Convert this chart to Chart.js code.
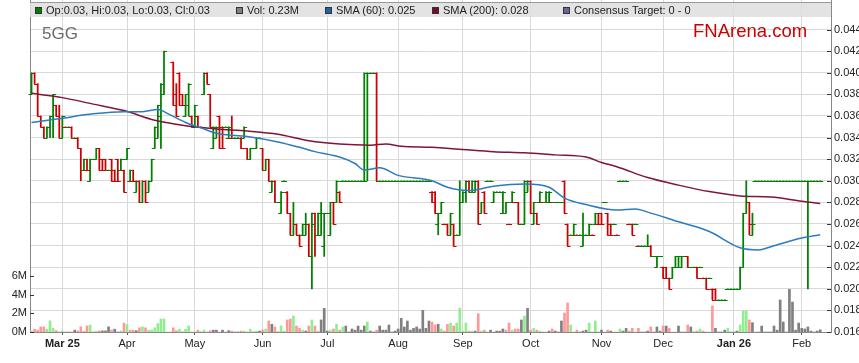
<!DOCTYPE html>
<html>
<head>
<meta charset="utf-8">
<script src="https://cdn.jsdelivr.net/npm/chart.js@4.4.1/dist/chart.umd.min.js"></script>
<style>
  body { margin: 0; background: #fff; font-family: "Liberation Sans", Arial, sans-serif; }
  #wrap { position: relative; width: 859px; height: 363px; overflow: hidden; }
  #hdr { position: absolute; left: 30px; top: 2px; width: 801px; height: 14px;
         background: rgba(222, 222, 222, 0.85); border-top: 1px solid #9a9a9a; }
  #hdr .it { position: absolute; top: 2px; font-size: 11px; line-height: 11px; color: #222; white-space: nowrap; }
  #hdr .sw { display: inline-block; width: 5px; height: 5px; border: 1px solid #333; margin-right: 4px; vertical-align: 0px; }
  #code { position: absolute; left: 42px; top: 25px; font-size: 17px; line-height: 17px; color: #6b6b6b; }
  #brand { position: absolute; left: 693px; top: 22px; font-size: 18.5px; line-height: 18.5px; color: #cc0000; }
</style>
</head>
<body>
<div id="wrap">
  <canvas id="chart" width="859" height="363"></canvas>
  <div id="hdr">
    <span class="it" style="left:5px"><span class="sw" style="background:#008000"></span>Op:0.03, Hi:0.03, Lo:0.03, Cl:0.03</span>
    <span class="it" style="left:206px"><span class="sw" style="background:#808080"></span>Vol: 0.23M</span>
    <span class="it" style="left:295px"><span class="sw" style="background:#1a63a5"></span>SMA (60): 0.025</span>
    <span class="it" style="left:402px"><span class="sw" style="background:#7a0a28"></span>SMA (200): 0.028</span>
    <span class="it" style="left:533px"><span class="sw" style="background:#66669a"></span>Consensus Target: 0 - 0</span>
  </div>
  <div id="code">5GG</div>
  <div id="brand">FNArena.com</div>
</div>
<script>
// 5GG daily OHLC, one slot per weekday starting Mon 17 Feb 2025
const startDate = '2025-02-17';
const dayCount = 260;

const opens = [
  .038,.040,.039,.036,.035,.034,.035,.036,.037,.036,
  .034,.035,.035,.035,.034,.034,.033,.031,.031,.030,
  .032,.032,.033,.032,.032,.031,.032,.031,.032,.031,
  .031,.032,.030,.030,.029,.030,.028,.030,.029,.030,
  .033,.034,.036,.038,null,null,.041,.038,.040,.038,
  .036,.037,.036,.035,.036,.035,.038,.040,.038,.033,
  .034,.036,.035,.035,.034,.034,.034,.034,.034,.034,
  .033,.032,.033,.033,.034,.033,.031,.032,.029,.030,
  .028,.027,.030,.029,.027,.025,.026,.025,.025,.025,
  .026,.023,.027,.025,.025,.024,.027,.025,.028,.028,
  .029,.030,.030,.030,.030,.030,.030,.030,.030,.040,
  .040,.040,.040,.030,.030,.030,.030,.030,.030,.030,
  .030,.030,.030,.030,.030,.030,.030,.030,.030,.030,
  .029,.029,.026,.027,.026,.026,.025,.026,.025,.025,
  .028,.029,.030,.029,.029,.030,.027,.029,.030,.030,
  .028,.029,.029,.027,.027,.026,.028,.028,.028,.026,
  .026,.029,.030,.026,.027,.028,.028,.028,.028,.028,
  .028,.028,.028,.030,.026,.025,.025,.025,.025,.024,
  .025,.025,.025,.026,.026,.027,.028,.027,.026,.026,
  .025,.030,.030,.030,.026,.026,.026,.024,.024,.024,
  .024,.024,.023,.022,.023,.022,.022,.021,.021,.022,
  .022,.022,.023,.023,.022,.022,.022,.022,.021,.021,
  .021,.020,.020,.019,.019,.019,.020,.020,.020,.020,
  .020,.022,.027,.028,.025,.030,.030,.030,.030,.030,
  .030,.030,.030,.030,.030,.030,.030,.030,.030,.030,
  .030,.030,.030,.030,.030,.030,.030
];
const highs = [
  .040,.040,.039,.036,.035,.035,.036,.038,.037,.037,
  .036,.035,.035,.035,.034,.034,.033,.032,.032,.032,
  .032,.033,.033,.032,.032,.031,.032,.031,.032,.032,
  .031,.033,.031,.031,.030,.030,.030,.030,.030,.032,
  .035,.037,.039,.042,null,null,.041,.039,.040,.038,
  .038,.039,.036,.037,.036,.035,.040,.040,.038,.035,
  .035,.036,.035,.035,.035,.036,.034,.034,.034,.035,
  .033,.033,.033,.034,.034,.033,.032,.032,.030,.030,
  .028,.029,.030,.029,.027,.028,.026,.025,.026,.027,
  .026,.027,.027,.027,.028,.027,.027,.028,.028,.030,
  .029,.030,.030,.030,.030,.030,.030,.030,.040,.040,
  .040,.040,.040,.030,.030,.030,.030,.030,.030,.030,
  .030,.030,.030,.030,.030,.030,.030,.030,.030,.030,
  .029,.029,.027,.028,.026,.026,.027,.026,.025,.030,
  .029,.030,.030,.030,.030,.030,.028,.029,.030,.030,
  .029,.029,.029,.029,.028,.026,.029,.028,.028,.026,
  .030,.030,.030,.028,.027,.029,.028,.029,.029,.028,
  .028,.028,.028,.030,.026,.025,.026,.025,.025,.027,
  .025,.026,.025,.027,.027,.027,.028,.027,.026,.026,
  .025,.030,.030,.030,.026,.026,.026,.024,.024,.024,
  .025,.024,.023,.023,.023,.022,.022,.021,.022,.023,
  .023,.023,.023,.023,.022,.022,.022,.022,.021,.021,
  .021,.020,.020,.019,.019,.019,.020,.020,.020,.020,
  .022,.027,.030,.028,.027,.030,.030,.030,.030,.030,
  .030,.030,.030,.030,.030,.030,.030,.030,.030,.030,
  .030,.030,.030,.030,.030,.030,.030
];
const lows = [
  .038,.039,.036,.035,.034,.034,.034,.034,.036,.034,
  .034,.035,.035,.034,.034,.033,.030,.031,.031,.030,
  .032,.032,.031,.031,.031,.031,.030,.030,.030,.031,
  .029,.032,.030,.030,.029,.028,.028,.028,.029,.030,
  .033,.034,.033,.038,null,null,.037,.036,.037,.037,
  .036,.036,.035,.035,.035,.035,.038,.039,.035,.033,
  .034,.033,.033,.035,.034,.034,.034,.034,.033,.034,
  .032,.032,.033,.033,.034,.031,.031,.030,.029,.028,
  .028,.027,.030,.027,.025,.025,.025,.024,.025,.025,
  .023,.020,.023,.025,.025,.023,.027,.025,.026,.028,
  .028,.030,.030,.030,.030,.030,.030,.030,.030,.030,
  .040,.040,.030,.030,.030,.030,.030,.030,.030,.030,
  .030,.030,.030,.030,.030,.030,.030,.030,.030,.030,
  .028,.027,.025,.027,.026,.025,.025,.024,.025,.025,
  .028,.028,.029,.029,.029,.026,.027,.027,.030,.030,
  .028,.029,.029,.027,.027,.026,.028,.028,.026,.026,
  .026,.029,.027,.026,.026,.028,.028,.028,.028,.028,
  .028,.028,.028,.027,.024,.025,.025,.025,.025,.024,
  .025,.025,.025,.026,.026,.026,.028,.025,.025,.026,
  .025,.030,.030,.030,.026,.025,.026,.024,.024,.024,
  .024,.023,.023,.022,.023,.021,.021,.020,.021,.022,
  .022,.022,.023,.022,.022,.022,.021,.022,.021,.020,
  .021,.019,.019,.019,.019,.019,.020,.020,.020,.020,
  .020,.022,.027,.025,.025,.030,.030,.030,.030,.030,
  .030,.030,.030,.030,.030,.030,.030,.030,.030,.030,
  .030,.030,.020,.030,.030,.030,.030
];
const closes = [
  .040,.039,.036,.035,.034,.035,.036,.038,.036,.034,
  .036,.035,.035,.034,.034,.033,.031,.032,.031,.032,
  .032,.033,.031,.031,.031,.031,.030,.030,.030,.032,
  .029,.033,.031,.030,.030,.028,.030,.028,.030,.032,
  .035,.037,.039,.042,null,null,.037,.036,.037,.037,
  .038,.039,.035,.037,.035,.035,.040,.039,.035,.035,
  .035,.033,.033,.035,.035,.034,.034,.034,.033,.035,
  .032,.033,.033,.034,.034,.031,.032,.030,.030,.028,
  .028,.029,.030,.027,.025,.026,.025,.024,.026,.026,
  .023,.026,.025,.027,.027,.027,.027,.028,.026,.030,
  .028,.030,.030,.030,.030,.030,.030,.030,.030,.040,
  .040,.040,.030,.030,.030,.030,.030,.030,.030,.030,
  .030,.030,.030,.030,.030,.030,.030,.030,.030,.030,
  .028,.027,.027,.028,.026,.025,.027,.024,.025,.028,
  .029,.030,.029,.030,.030,.026,.028,.027,.030,.030,
  .029,.029,.029,.029,.028,.026,.029,.028,.026,.026,
  .030,.030,.027,.028,.026,.029,.028,.029,.029,.028,
  .028,.028,.028,.027,.024,.025,.026,.025,.025,.025,
  .025,.026,.025,.027,.026,.026,.028,.025,.025,.026,
  .025,.030,.030,.030,.026,.025,.026,.024,.024,.024,
  .024,.023,.023,.023,.023,.021,.021,.020,.022,.023,
  .023,.023,.023,.022,.022,.022,.021,.022,.021,.020,
  .021,.019,.019,.019,.019,.019,.020,.020,.020,.020,
  .022,.027,.028,.026,.026,.030,.030,.030,.030,.030,
  .030,.030,.030,.030,.030,.030,.030,.030,.030,.030,
  .030,.030,.030,.030,.030,.030,.030
];
// volume in millions of shares
const volumes = [
  .11,.3,.2,.55,.55,.3,1.2,.4,.15,0,
  .1,0,0,0,.2,.12,.55,.1,.65,.75,
  0,.1,.12,.12,.12,.55,.2,.3,0,.12,
  .95,.8,.2,.2,.14,.45,.55,.45,.2,.2,
  .45,.9,1.4,1.4,0,0,.45,.14,.3,0,
  .3,.65,0,0,.2,0,.2,0,.14,.2,
  .2,0,.2,0,.14,.1,0,0,.1,.1,
  0,.3,0,.1,.1,.2,.32,1.18,.82,.54,
  0,.64,.1,1.29,1.39,1.71,.64,.39,.2,.1,
  .64,1.29,.64,.1,1.29,2.54,.1,.2,.32,.82,
  .2,.54,.64,0,.32,.2,.64,.2,.64,1.07,
  .1,0,.2,.64,.2,.2,.75,0,.1,.32,
  1.46,.54,1.18,.2,.39,.54,.32,2.32,.39,1.18,
  1.07,.75,.82,.32,.1,.82,.96,.64,.96,2.54,
  .1,.96,.1,.1,.1,1.96,.1,.2,0,.2,
  0,.1,.1,.32,.2,.96,.2,.32,.32,1.29,
  1.71,2.54,.2,.39,.2,.1,0,0,.1,.32,
  .1,0,1.18,2.04,3.11,.75,0,.2,0,.1,
  .2,.96,0,1.18,0,.2,0,.2,.1,0,
  0,.32,.1,.39,.1,.39,0,.39,0,0,
  .1,.54,0,.54,.1,.64,.64,.39,0,0,
  .64,0,0,.75,.54,0,.1,.32,.1,0,
  0,2.79,.39,0,0,.2,.39,0,0,.1,
  .75,2.25,2.25,1.29,1.0,0,0,.64,0,0,
  0,.64,.2,3.43,1.07,0,4.57,3.21,.2,.96,
  .39,.32,.54,.1,0,.1,.23
];

// moving averages at these day slots
const sma60Days = [0,10,20,30,36,41,45,50,55,60,70,80,87,92,100,105,108,113,119,130,135,142,150,160,168,173,180,190,196,200,210,220,230,236,240,250,256];
const sma60Values = [.0354,.0358,.0362,.0364,.0364,.0366,.0361,.0354,.0349,.0344,.0341,.0336,.0331,.0327,.0322,.0316,.0310,.0312,.0305,.0300,.0294,.0291,.0295,.0297,.0294,.0284,.0278,.0273,.0274,.0271,.0262,.0253,.0238,.0236,.0239,.0247,.0250];
const sma200Days = [0,10,20,30,40,50,60,70,80,90,100,110,115,120,130,140,150,160,170,180,185,190,200,210,220,230,240,250,256];
const sma200Values = [.0381,.0377,.0371,.0365,.0356,.0351,.0348,.0346,.0343,.0337,.0334,.0333,.0334,.0332,.0331,.0329,.0327,.0326,.0324,.0322,.0317,.0313,.0303,.0296,.0290,.0286,.0285,.0281,.0279];

// axis ticks
const monthTickDays = [10,31,53,75,96,119,140,162,185,205,228,250];
const monthTickLabels = ['Mar 25','Apr','May','Jun','Jul','Aug','Sep','Oct','Nov','Dec','Jan 26','Feb'];
const priceTicks = [0.016,0.018,0.020,0.022,0.024,0.026,0.028,0.030,0.032,0.034,0.036,0.038,0.040,0.042,0.044];
const volumeTicks = [0, 2, 4, 6];

const UP = '#008000', DOWN = '#cc0000';

// weekday categories
const days = [];
const d = new Date(startDate + 'T00:00:00Z');
while (days.length < dayCount) {
    const wd = d.getUTCDay();
    if (wd !== 0 && wd !== 6) days.push(d.toISOString().slice(0, 10));
    d.setUTCDate(d.getUTCDate() + 1);
}

function pad(days_, vals) {
    const out = new Array(dayCount).fill(null);
    days_.forEach((day, k) => { out[day] = vals[k]; });
    return out;
}

const barColors = closes.map((c, i) => {
    if (c == null) return UP;
    if (c > opens[i]) return UP;
    if (c < opens[i]) return DOWN;
    let k = i - 1;
    while (k >= 0 && closes[k] == null) k--;
    return (k >= 0 && c < closes[k]) ? DOWN : UP;
});
const volColors = volumes.map((v, i) => {
    let k = i - 1;
    while (k >= 0 && closes[k] == null) k--;
    if (k < 0 || closes[i] == null) return '#90ee90';
    if (closes[i] > closes[k]) return '#90ee90';
    if (closes[i] < closes[k]) return '#ff9999';
    return '#808080';
});

// open / close ticks on the price bars
const ohlcTicks = {
    id: 'ohlcTicks',
    afterDatasetDraw(chart, args) {
        if (args.index !== 2) return;
        const ctx = chart.ctx, x = chart.scales.x, y = chart.scales.price;
        ctx.save();
        ctx.lineWidth = 1;
        opens.forEach((o, i) => {
            if (o == null) return;
            const px = x.getPixelForValue(i);
            const yo = Math.round(y.getPixelForValue(o)) + 0.5;
            const yc = Math.round(y.getPixelForValue(closes[i])) + 0.5;
            ctx.strokeStyle = barColors[i];
            ctx.beginPath();
            ctx.moveTo(px - 3, yo); ctx.lineTo(px + 0.5, yo);
            ctx.moveTo(px - 0.5, yc); ctx.lineTo(px + 3, yc);
            ctx.stroke();
        });
        ctx.restore();
    }
};

// small tick marks drawn inward from both value axes
const innerTicks = {
    id: 'innerTicks',
    afterDraw(chart) {
        const ctx = chart.ctx, price = chart.scales.price, vol = chart.scales.vol;
        ctx.save();
        ctx.strokeStyle = '#333';
        ctx.lineWidth = 1;
        ctx.beginPath();
        priceTicks.forEach(v => {
            const py = Math.round(price.getPixelForValue(v)) + 0.5;
            ctx.moveTo(price.left - 4, py); ctx.lineTo(price.left, py);
        });
        volumeTicks.forEach(v => {
            const py = Math.round(vol.getPixelForValue(v)) + 0.5;
            ctx.moveTo(vol.right, py); ctx.lineTo(vol.right + 4, py);
        });
        ctx.stroke();
        ctx.restore();
    }
};

Chart.defaults.font.family = '"Liberation Sans", Arial, sans-serif';

new Chart(document.getElementById('chart'), {
    type: 'bar',
    data: {
        labels: days,
        datasets: [
            {
                type: 'line',
                label: 'SMA (60)',
                data: pad(sma60Days, sma60Values),
                yAxisID: 'price',
                borderColor: '#2c7bbd',
                borderWidth: 1.5,
                pointRadius: 0,
                spanGaps: true,
                cubicInterpolationMode: 'monotone',
                order: 0
            },
            {
                type: 'line',
                label: 'SMA (200)',
                data: pad(sma200Days, sma200Values),
                yAxisID: 'price',
                borderColor: '#7e1636',
                borderWidth: 1.5,
                pointRadius: 0,
                spanGaps: true,
                cubicInterpolationMode: 'monotone',
                order: 0
            },
            {
                label: 'Price',
                data: lows.map((l, i) => l == null ? null : [l, highs[i]]),
                yAxisID: 'price',
                backgroundColor: barColors,
                barThickness: 1.1,
                grouped: false,
                order: 1
            },
            {
                label: 'Volume',
                data: volumes,
                yAxisID: 'vol',
                backgroundColor: volColors,
                barThickness: 2,
                grouped: false,
                order: 2
            }
        ]
    },
    options: {
        responsive: false,
        animation: false,
        devicePixelRatio: 1,
        layout: { padding: 0 },
        plugins: {
            legend: { display: false },
            tooltip: { enabled: false }
        },
        scales: {
            x: {
                offset: true,
                grid: { offset: false, color: '#d9d9d9', tickLength: 3, tickColor: '#555' },
                border: { color: '#888' },
                ticks: {
                    autoSkip: false,
                    maxRotation: 0,
                    padding: 2,
                    color: '#222',
                    font: c => ({ size: 11, weight: (c.tick && /\d/.test(c.tick.label)) ? 'bold' : 'normal' }),
                    callback: (v, i) => {
                        const k = monthTickDays.indexOf(i);
                        return k >= 0 ? monthTickLabels[k] : null;
                    }
                },
                afterFit: s => { s.height = 31; s.paddingLeft = 0; s.paddingRight = 0; }
            },
            price: {
                position: 'right',
                min: 0.016,
                max: 0.04674,
                grid: { color: '#d9d9d9', drawTicks: false },
                border: { color: '#888' },
                ticks: { padding: 3, color: '#222', font: { size: 11 }, callback: v => v.toFixed(3) },
                afterBuildTicks: s => { s.ticks = priceTicks.map(v => ({ value: v })); },
                afterFit: s => { s.width = 28; s.paddingTop = 0; s.paddingBottom = 0; }
            },
            vol: {
                position: 'left',
                min: 0,
                max: 35.58,
                grid: { display: false, drawTicks: false },
                border: { color: '#888' },
                ticks: { padding: 3, color: '#222', font: { size: 11 }, callback: v => v + 'M' },
                afterBuildTicks: s => { s.ticks = volumeTicks.map(v => ({ value: v })); },
                afterFit: s => { s.width = 30; s.paddingTop = 0; s.paddingBottom = 0; }
            }
        }
    },
    plugins: [ohlcTicks, innerTicks]
});
</script>
</body>
</html>
